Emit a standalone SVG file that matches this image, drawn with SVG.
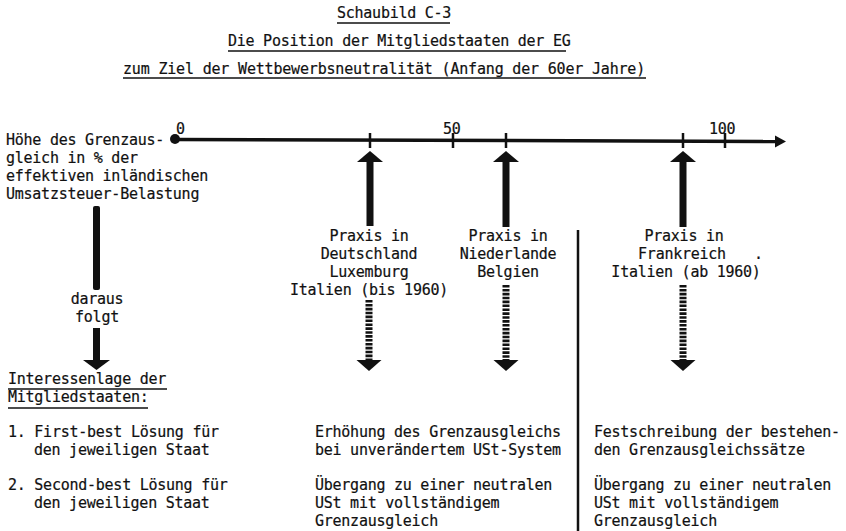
<svg xmlns="http://www.w3.org/2000/svg" width="846" height="531" viewBox="0 0 846 531">
<style>
text{font-family:"DejaVu Sans Mono","Liberation Mono",monospace;font-size:15px;letter-spacing:-0.25px;fill:#111;stroke:#111;stroke-width:0.2}
.c{text-anchor:middle}
.ul{stroke:#111;stroke-width:1.5}
.tick{stroke:#111;stroke-width:2.5}
.dash{stroke:#111;stroke-width:7;stroke-dasharray:2.6 1.3}
.fill{fill:#111}
</style>
<rect width="846" height="531" fill="#fff"/>
<g id="title">
<text x="337" y="18">Schaubild C-3</text>
<line class="ul" x1="337" y1="23" x2="450" y2="23"/>
<text x="228" y="46">Die Position der Mitgliedstaaten der EG</text>
<line class="ul" x1="228" y1="51" x2="566" y2="51"/>
<text x="123" y="74" textLength="522">zum Ziel der Wettbewerbsneutralität (Anfang der 60er Jahre)</text>
<line class="ul" x1="123" y1="78" x2="646" y2="78"/>
</g>
<g id="axis">
<circle class="fill" cx="175" cy="139" r="5"/>
<line x1="175" y1="139.5" x2="778" y2="141.5" stroke="#111" stroke-width="3.5"/>
<polygon class="fill" points="775,135.5 786,141.5 775,147.5"/>
<line class="tick" x1="370" y1="133" x2="370" y2="148"/>
<line class="tick" x1="453" y1="133" x2="453" y2="148"/>
<line class="tick" x1="506" y1="133" x2="506" y2="148"/>
<line class="tick" x1="683" y1="133" x2="683" y2="148"/>
<line class="tick" x1="725" y1="133" x2="725" y2="148"/>
<text x="176" y="134">0</text>
<text x="443" y="134">50</text>
<text x="709" y="134">100</text>
</g>
<g id="axis-label">
<text x="6" y="145">Höhe des Grenzaus-</text>
<text x="6" y="163">gleich in % der</text>
<text x="6" y="181">effektiven inländischen</text>
<text x="6" y="199">Umsatzsteuer-Belastung</text>
</g>
<g id="daraus">
<text class="c" x="97" y="304">daraus</text>
<text class="c" x="97" y="322">folgt</text>
</g>
<g id="praxis-de">
<text class="c" x="369" y="241">Praxis in</text>
<text class="c" x="369" y="259">Deutschland</text>
<text class="c" x="369" y="277">Luxemburg</text>
<text class="c" x="369" y="295">Italien (bis 1960)</text>
</g>
<g id="praxis-nl">
<text class="c" x="508" y="241">Praxis in</text>
<text class="c" x="508" y="259">Niederlande</text>
<text class="c" x="508" y="277">Belgien</text>
</g>
<g id="praxis-fr">
<text class="c" x="684" y="241">Praxis in</text>
<text class="c" x="682" y="259">Frankreich</text>
<text x="754" y="259">.</text>
<text class="c" x="686" y="277">Italien (ab 1960)</text>
</g>
<g id="interessenlage">
<text x="8" y="384">Interessenlage der</text>
<line class="ul" x1="8" y1="389" x2="167" y2="389"/>
<text x="8" y="402">Mitgliedstaaten:</text>
<line class="ul" x1="8" y1="408" x2="148" y2="408"/>
<text x="8" y="437">1. First-best Lösung für</text>
<text x="34" y="455">den jeweiligen Staat</text>
<text x="8" y="490">2. Second-best Lösung für</text>
<text x="34" y="508">den jeweiligen Staat</text>
</g>
<g id="middle-column">
<text x="315" y="437">Erhöhung des Grenzausgleichs</text>
<text x="315" y="455">bei unverändertem USt-System</text>
<text x="315" y="490">Übergang zu einer neutralen</text>
<text x="315" y="508">USt mit vollständigem</text>
<text x="315" y="526">Grenzausgleich</text>
</g>
<g id="right-column">
<text x="594" y="437">Festschreibung der bestehen-</text>
<text x="594" y="455">den Grenzausgleichssätze</text>
<text x="594" y="490">Übergang zu einer neutralen</text>
<text x="594" y="508">USt mit vollständigem</text>
<text x="594" y="526">Grenzausgleich</text>
</g>
<g id="connectors">
<line x1="578" y1="230" x2="578" y2="531" stroke="#111" stroke-width="2.5"/>
<rect class="fill" x="366.5" y="160" width="7" height="66"/>
<polygon class="fill" points="357,162 370,151 383,162"/>
<rect class="fill" x="502.5" y="160" width="7" height="67"/>
<polygon class="fill" points="493,162 506,151 519,162"/>
<rect class="fill" x="679.5" y="160" width="7" height="67"/>
<polygon class="fill" points="670,162 683,151 696,162"/>
<rect class="fill" x="93" y="206" width="7" height="84" rx="2"/>
<rect class="fill" x="93" y="328" width="7" height="33"/>
<polygon class="fill" points="83,360 110,360 96.5,370"/>
<line class="dash" x1="369" y1="300" x2="369" y2="360"/>
<polygon class="fill" points="356.5,360 381.5,360 369,371"/>
<line class="dash" x1="506" y1="285" x2="506" y2="360"/>
<polygon class="fill" points="493.5,360 518.5,360 506,371"/>
<line class="dash" x1="683" y1="285" x2="683" y2="360"/>
<polygon class="fill" points="670.5,360 695.5,360 683,371"/>
</g>
</svg>
